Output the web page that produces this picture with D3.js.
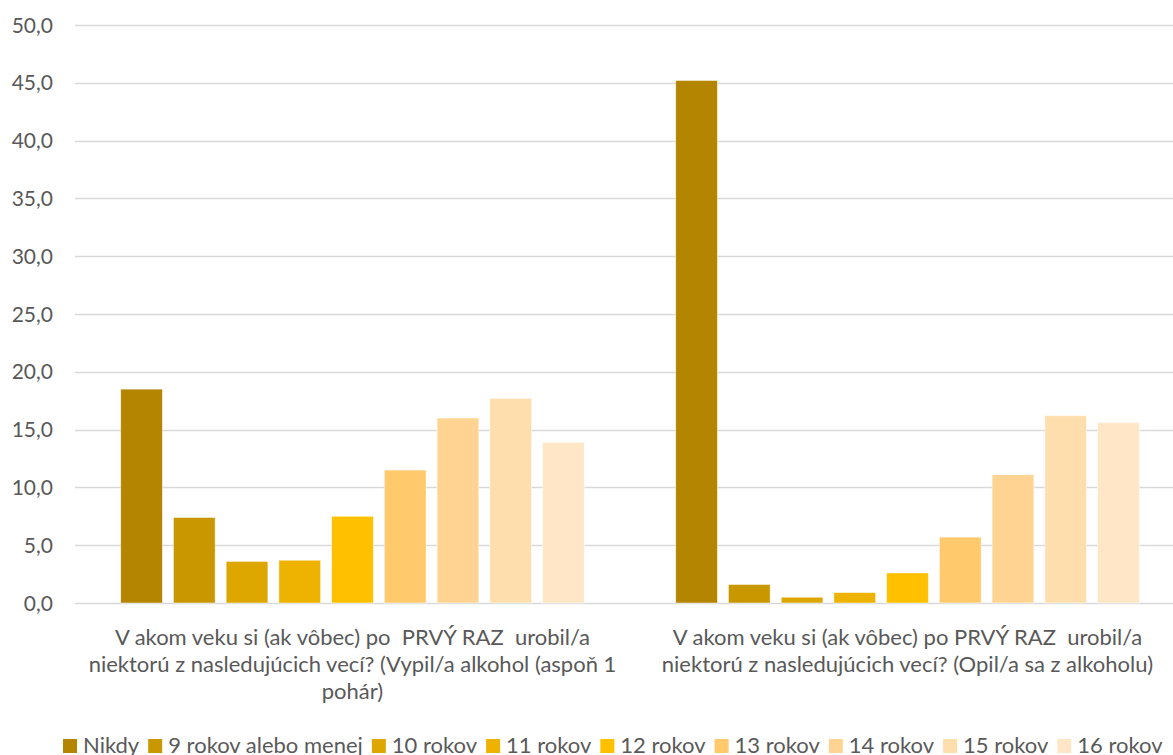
<!DOCTYPE html>
<html>
<head>
<meta charset="utf-8">
<script src="https://cdn.jsdelivr.net/npm/d3@7"></script>
<style>
  html, body { margin: 0; padding: 0; background: #fff; }
  svg { display: block; }
  text { font-family: Lato, "Open Sans", sans-serif; fill: #595959; }
</style>
</head>
<body>
<svg id="chart" width="1173" height="755"></svg>
<script>
// ---- data ----
const categories = [
  "V akom veku si (ak vôbec) po  PRVÝ RAZ  urobil/a niektorú z nasledujúcich vecí? (Vypil/a alkohol (aspoň 1 pohár)",
  "V akom veku si (ak vôbec) po PRVÝ RAZ  urobil/a niektorú z nasledujúcich vecí? (Opil/a sa z alkoholu)"
];
const categoryLines = [
  ["V akom veku si (ak vôbec) po  PRVÝ RAZ  urobil/a", "niektorú z nasledujúcich vecí? (Vypil/a alkohol (aspoň 1", "pohár)"],
  ["V akom veku si (ak vôbec) po PRVÝ RAZ  urobil/a", "niektorú z nasledujúcich vecí? (Opil/a sa z alkoholu)"]
];
const seriesNames = ["Nikdy", "9 rokov alebo menej", "10 rokov", "11 rokov", "12 rokov", "13 rokov", "14 rokov", "15 rokov", "16 rokov"];
const seriesColors = ["#B38500", "#C99700", "#DEA700", "#EEB200", "#FFC000", "#FFC96C", "#FFD492", "#FFDEAD", "#FFE6C7"];
const valuesVypil = [18.5, 7.4, 3.6, 3.7, 7.5, 11.5, 16.0, 17.7, 13.9];
const valuesOpil  = [45.2, 1.6, 0.5, 0.9, 2.6, 5.7, 11.1, 16.2, 15.6];
const yTicks = [0, 5, 10, 15, 20, 25, 30, 35, 40, 45, 50];

// ---- layout ----
const svg = d3.select("#chart");
const plotLeft = 75, plotRight = 1185, plotTop = 25, plotBottom = 603;

const y = d3.scaleLinear().domain([0, 50]).range([plotBottom, plotTop]);
const x0 = d3.scaleBand().domain(categories).range([plotLeft, plotRight]).paddingInner(0).paddingOuter(0);
const x1 = d3.scaleBand().domain(seriesNames).range([45.7, 555 - 45.7]).paddingInner(0.209).paddingOuter(0);

const table = categories.map((c, i) => ({
  cat: c,
  vals: seriesNames.map((s, j) => ({ s, v: (i === 0 ? valuesVypil : valuesOpil)[j], color: seriesColors[j] }))
}));

// gridlines
svg.append("g")
  .selectAll("line").data(yTicks).join("line")
  .attr("x1", plotLeft).attr("x2", 1173)
  .attr("y1", d => Math.round(y(d)) + 0.5).attr("y2", d => Math.round(y(d)) + 0.5)
  .attr("stroke", "#D9D9D9").attr("stroke-width", 1.3);

// y axis labels
const fmt = d => d.toFixed(1).replace(".", ",");
svg.append("g")
  .selectAll("text").data(yTicks).join("text")
  .attr("x", 53).attr("y", d => y(d))
  .attr("dy", "0.36em")
  .attr("text-anchor", "end")
  .style("font-size", "21px")
  .text(fmt);

// bars
const groups = svg.append("g").selectAll("g").data(table).join("g")
  .attr("transform", d => `translate(${x0(d.cat)},0)`);
groups.selectAll("rect").data(d => d.vals).join("rect")
  .attr("x", d => x1(d.s))
  .attr("width", x1.bandwidth())
  .attr("y", d => y(d.v))
  .attr("height", d => y(0) - y(d.v))
  .attr("fill", d => d.color)
  .attr("stroke", "#ffffff")
  .attr("stroke-opacity", 0.6)
  .attr("stroke-width", 0.8);

// category labels
categories.forEach((c, i) => {
  const cx = x0(c) + x0.bandwidth() / 2;
  const t = svg.append("text")
    .attr("text-anchor", "middle")
    .attr("xml:space", "preserve")
    .style("white-space", "pre")
    .style("font-size", "22px");
  categoryLines[i].forEach((ln, k) => {
    t.append("tspan").attr("x", cx).attr("y", 645 + k * 27).text(ln);
  });
});

// legend
const legend = svg.append("g");
let lx = 63;
seriesNames.forEach((s, j) => {
  legend.append("rect").attr("x", lx).attr("y", 739).attr("width", 14).attr("height", 14).attr("fill", seriesColors[j]);
  const t = legend.append("text").attr("x", lx + 20).attr("y", 753)
    .style("font-size", "22px").text(s);
  const w = t.node().getComputedTextLength();
  lx += 20 + w + 9;
});
</script>
</body>
</html>
